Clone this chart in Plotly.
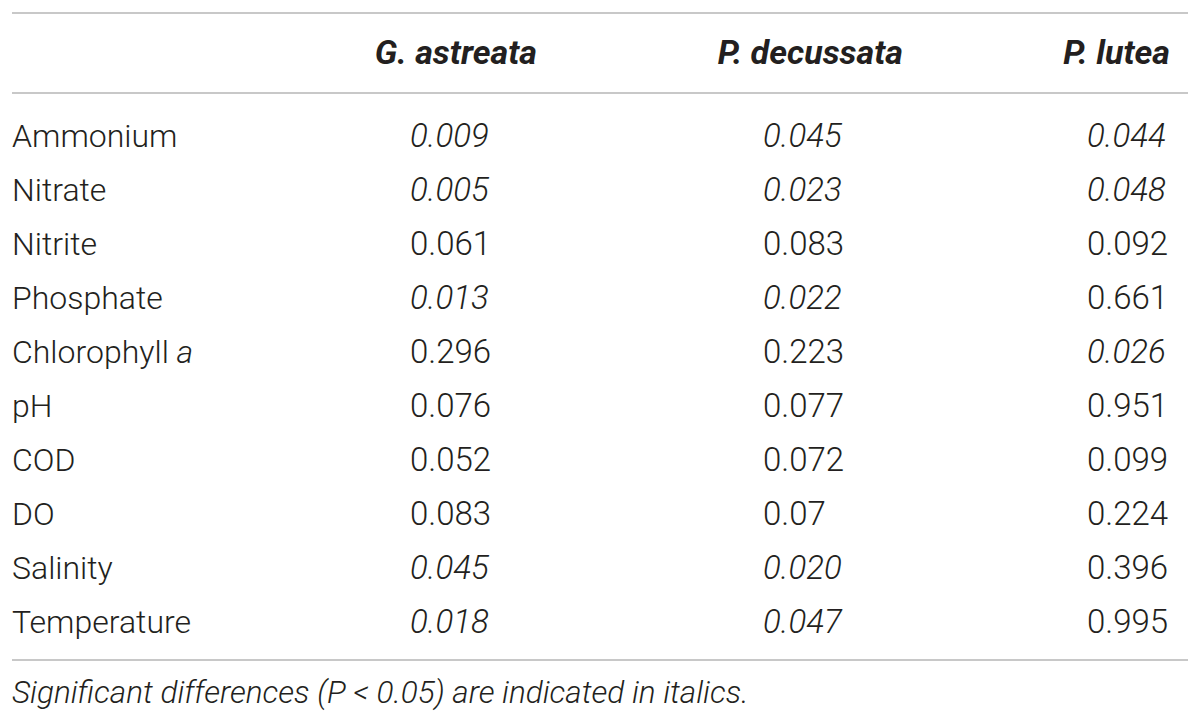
import plotly.graph_objects as go

parameters = ["Ammonium", "Nitrate", "Nitrite", "Phosphate", "Chlorophyll <i>a</i>",
              "pH", "COD", "DO", "Salinity", "Temperature"]
species = ["G. astreata", "P. decussata", "P. lutea"]
g_astreata = ["0.009", "0.005", "0.061", "0.013", "0.296", "0.076", "0.052", "0.083", "0.045", "0.018"]
p_decussata = ["0.045", "0.023", "0.083", "0.022", "0.223", "0.077", "0.072", "0.07", "0.020", "0.047"]
p_lutea = ["0.044", "0.048", "0.092", "0.661", "0.026", "0.951", "0.099", "0.224", "0.396", "0.995"]
footnote = "<i>Significant differences (P &lt; 0.05) are indicated in italics.</i>"
alpha = 0.05

FONT = "Roboto"
COLOR = "#231f20"
WEIGHT = 300

W, H = 1200, 723
PAGE_OFFSET = 8  # default body margin of the page
row0, row_step = 139, 54
col_value_x = [410, 763, 1087]
col_head_x = [537, 903, 1170]
label_x = 12
head_y = 55
foot_y = 695
line_x0, line_x1 = 12, 1188
line_ys = [13, 93, 660]

row_y = [row0 + i * row_step for i in range(len(parameters))]


def tf(size):
    return dict(family=FONT, size=size, color=COLOR, weight=WEIGHT)


fig = go.Figure()
fig.add_trace(go.Scatter(x=[label_x] * len(parameters), y=row_y, mode="text",
                         text=parameters, textposition="middle right", textfont=tf(32),
                         hoverinfo="skip", showlegend=False))
for cx, hx, name, vals in zip(col_value_x, col_head_x, species,
                              [g_astreata, p_decussata, p_lutea]):
    txt = [f"<i>{v}</i>" if float(v) < alpha else v for v in vals]
    fig.add_trace(go.Scatter(x=[cx] * len(vals), y=row_y, mode="text", text=txt,
                             textposition="middle right", textfont=tf(33),
                             hoverinfo="skip", showlegend=False))
    fig.add_trace(go.Scatter(x=[hx], y=[head_y], mode="text", text=[f"<b><i>{name}</i></b>"],
                             textposition="middle left", textfont=tf(34),
                             hoverinfo="skip", showlegend=False))
fig.add_trace(go.Scatter(x=[label_x], y=[foot_y], mode="text", text=[footnote],
                         textposition="middle right", textfont=tf(31.5),
                         hoverinfo="skip", showlegend=False))

for ly in line_ys:
    fig.add_shape(type="line", x0=line_x0, x1=line_x1, y0=ly, y1=ly, xref="x", yref="y",
                  line=dict(color="#c8c8c8", width=2))

fig.update_layout(width=W, height=H, margin=dict(l=0, r=0, t=0, b=0),
                  paper_bgcolor="white", plot_bgcolor="white",
                  xaxis=dict(range=[PAGE_OFFSET, W + PAGE_OFFSET], visible=False, fixedrange=True),
                  yaxis=dict(range=[H + PAGE_OFFSET, PAGE_OFFSET], visible=False, fixedrange=True))
fig.write_html("out.html")
